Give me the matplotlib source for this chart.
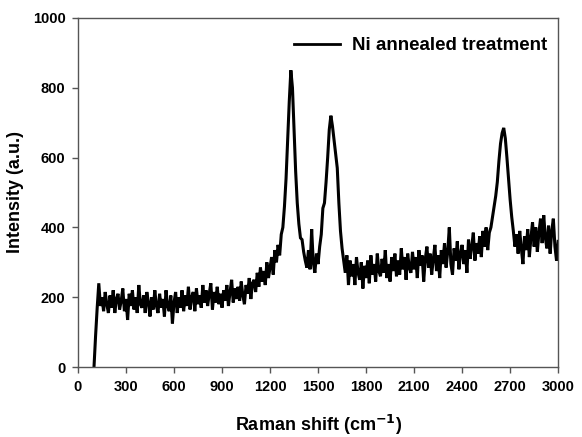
import numpy as np
import matplotlib
matplotlib.use("Agg")
import matplotlib.pyplot as plt

plt.rcParams['font.family'] = ['Liberation Sans', 'DejaVu Sans']
plt.rcParams['font.weight'] = 'bold'

# Raman shift grid (cm^-1), sampled every 10 cm^-1 from 100 to 3000
shift_start, shift_stop, shift_step = 100, 3000, 10

intensity = [
    # 100-190
    0, 90, 170, 240, 175, 200, 160, 215, 180, 155,
    # 200-290
    205, 170, 220, 155, 195, 210, 165, 190, 225, 160,
    # 300-390
    195, 135, 210, 175, 220, 165, 200, 155, 235, 180,
    # 400-490
    170, 205, 155, 215, 185, 145, 200, 165, 220, 175,
    # 500-590
    155, 210, 170, 195, 145, 220, 175, 160, 205, 125,
    # 600-690
    185, 215, 155, 200, 170, 220, 160, 205, 175, 230,
    # 700-790
    165, 200, 215, 160, 225, 180, 205, 170, 235, 185,
    # 800-890
    220, 175, 210, 240, 165, 215, 185, 230, 180, 210,
    # 900-990
    170, 220, 190, 235, 175, 215, 250, 185, 225, 195,
    # 1000-1090
    230, 190, 245, 205, 180, 235, 210, 255, 195, 240,
    # 1100-1190
    250, 215, 270, 230, 285, 245, 275, 235, 300, 255,
    # 1200-1290
    285, 315, 265, 335, 300, 350, 320, 380, 400, 460,
    # 1300-1390
    540, 650, 760, 850, 800, 680, 560, 470, 410, 370,
    # 1400-1490
    365, 330, 305, 285, 335, 280, 395, 300, 270, 325,
    # 1500-1590
    295, 345, 380, 455, 470, 530, 600, 680, 720, 690,
    # 1600-1690
    650, 610, 570, 470, 390, 340, 305, 270, 320, 235,
    # 1700-1790
    305, 260, 295, 235, 315, 270, 250, 300, 225, 290,
    # 1800-1890
    255, 305, 240, 320, 265, 295, 245, 325, 275, 260,
    # 1900-1990
    310, 270, 335, 255, 295, 245, 315, 275, 325, 260,
    # 2000-2090
    305, 265, 340, 280, 315, 250, 325, 285, 270, 330,
    # 2100-2190
    280, 315, 255, 335, 290, 320, 245, 310, 345, 285,
    # 2200-2290
    325, 265, 310, 350, 275, 320, 255, 335, 295, 355,
    # 2300-2390
    285, 330, 400, 295, 265, 340, 305, 360, 280, 325,
    # 2400-2490
    350, 295, 335, 270, 365, 310, 345, 385, 305, 355,
    # 2500-2590
    325, 375, 315, 390, 345, 400, 335, 385, 400, 430,
    # 2600-2690
    460, 490, 530, 590, 640, 670, 685, 655, 600, 540,
    # 2700-2790
    480, 430, 390, 345, 380, 325, 390, 340, 295, 375,
    # 2800-2890
    335, 395, 315, 370, 415, 345, 400, 330, 385, 425,
    # 2900-2990
    355, 435, 370, 340, 405, 325, 390, 425, 345, 305,
    # 3000
    360,
]

raman_shift = np.arange(shift_start, shift_stop + 1, shift_step)

x_ticks = [0, 300, 600, 900, 1200, 1500, 1800, 2100, 2400, 2700, 3000]
y_ticks = [0, 200, 400, 600, 800, 1000]
series_label = "Ni annealed treatment"

fig = plt.figure(figsize=(5.82, 4.37), dpi=100)
ax = fig.add_axes([0.134, 0.160, 0.825, 0.799])

ax.plot(raman_shift, intensity, color='black', lw=2.2, label=series_label,
        solid_joinstyle='miter')

ax.set_xlim(0, 3000)
ax.set_ylim(0, 1000)
ax.set_xticks(x_ticks)
ax.set_yticks(y_ticks)
ax.tick_params(axis='both', which='both', direction='out', length=4, width=1,
               labelsize=10.5, pad=5, top=False, right=False, color='#555555')
for lab in ax.get_xticklabels() + ax.get_yticklabels():
    lab.set_fontweight('bold')
for sp in ax.spines.values():
    sp.set_color('#555555')
    sp.set_linewidth(1.0)

ax.set_xlabel("Raman shift (cm$^{\\mathbf{-1}}$)", fontsize=13, fontweight='bold', labelpad=14)
ax.set_ylabel("Intensity (a.u.)", fontsize=13, fontweight='bold', labelpad=6)

leg = ax.legend(loc='upper right', bbox_to_anchor=(0.977, 0.945), frameon=False,
                borderpad=0, borderaxespad=0,
                handlelength=2.45, handletextpad=0.65,
                prop={'weight': 'bold', 'size': 13.5})
for line in leg.get_lines():
    line.set_linewidth(2)

fig.savefig("out.png", dpi=100)
